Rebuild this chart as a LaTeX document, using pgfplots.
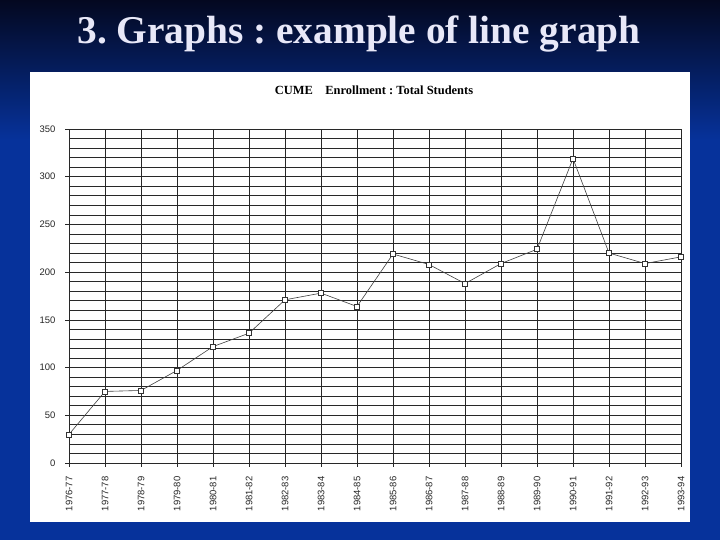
\documentclass[border=0pt]{standalone}
\usepackage{fontspec}
\setmainfont{Liberation Serif}
\setsansfont{Liberation Sans}
\usepackage{pgfplots}
\usepackage{pgfplotstable}
\pgfplotsset{compat=1.18}
\frenchspacing

\definecolor{slidetop}{RGB}{4,8,32}
\definecolor{slideblue}{RGB}{6,50,155}
\definecolor{gridink}{RGB}{40,40,40}
\definecolor{titleink}{RGB}{232,232,248}

% CUME enrollment, total students
\pgfplotstableread{
idx year    val
0   1976-77 30
1   1977-78 75
2   1978-79 76
3   1979-80 97
4   1980-81 122
5   1981-82 136
6   1982-83 171
7   1983-84 178
8   1984-85 164
9   1985-86 219
10  1986-87 208
11  1987-88 188
12  1988-89 209
13  1989-90 224
14  1990-91 319
15  1991-92 220
16  1992-93 209
17  1993-94 216
}\enroll

\begin{document}
\begin{tikzpicture}[x=1bp,y=1bp]
% slide background
\fill[slideblue] (0,0) rectangle (720,540);
\shade[top color=slidetop, bottom color=slideblue] (0,400) rectangle (720,540);
\fill[white] (30,18) rectangle (690,468);

\node[text=titleink, font=\bfseries\fontsize{39.5}{43}\selectfont, anchor=base]
  at (359,496) {3. Graphs : example of line graph};
\node[font=\bfseries\fontsize{12.5}{14}\selectfont]
  at (374,450) {CUME\quad Enrollment : Total Students};

\begin{axis}[
  at={(69bp,77bp)},
  anchor=south west,
  scale only axis,
  width=612bp,
  height=334bp,
  xmin=0, xmax=17,
  ymin=0, ymax=350,
  xtick={0,...,17},
  xticklabels from table={\enroll}{year},
  ytick={0,50,...,350},
  minor ytick={10,20,...,340},
  grid=both,
  major grid style={gridink, line width=0.7bp},
  minor grid style={gridink, line width=0.65bp},
  axis line style={gridink, line width=0.8bp},
  xtick pos=lower, ytick pos=left,
  tick align=outside,
  major tick length=4bp,
  minor tick length=0pt,
  tick style={gridink, line width=0.7bp},
  xticklabel shift=6bp,
  yticklabel shift=6bp,
  xticklabel style={rotate=90, anchor=east, text=black!85, font=\sffamily\fontsize{9.5}{11}\selectfont},
  yticklabel style={text=black!85, font=\sffamily\fontsize{9.5}{11}\selectfont},
  /pgf/number format/assume math mode=true,
]
\addplot[black!75, line width=0.6bp, mark=square*, mark size=2.5bp,
  mark options={fill=white, draw=black!80, line width=0.5bp}]
  table[x=idx, y=val] {\enroll};
\end{axis}
\pgfresetboundingbox
\path (0,0) rectangle (720,540);
\end{tikzpicture}
\end{document}
